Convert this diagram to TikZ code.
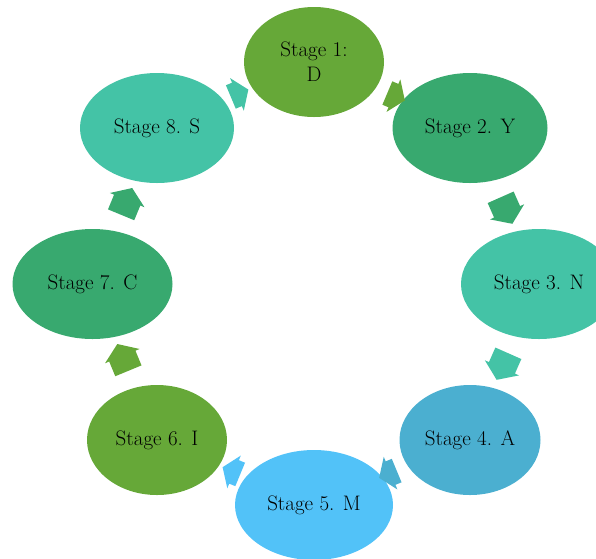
\documentclass[tikz,border=0pt]{standalone}
\usetikzlibrary{shapes.geometric,shapes.arrows}
\definecolor{cgreen}{HTML}{66A838}
\definecolor{cmid}{HTML}{38A96F}
\definecolor{cteal}{HTML}{44C3A6}
\definecolor{cblue}{HTML}{4BAFD0}
\definecolor{clight}{HTML}{52C2F8}
\begin{document}
\begin{tikzpicture}[x=1pt,y=-1pt,
  stagebox/.style={ellipse, draw=none, inner sep=0pt, minimum height=110pt,
    align=center, font=\fontsize{21}{25}\selectfont, text=black},
  blockarr/.style={single arrow, draw=none, inner xsep=0pt, inner ysep=14pt,
    minimum height=29pt, single arrow head extend=4.5pt, single arrow tip angle=110,
    midway, sloped, allow upside down},
  shortarr/.style={blockarr, inner ysep=12.5pt, minimum height=19pt, single arrow head extend=5pt}]
\useasboundingbox (0,0) rectangle (596,558);
\node[stagebox, fill=cgreen, minimum width=140pt] (s1) at (314,62) {Stage 1:\\D};
\node[stagebox, fill=cmid, minimum width=155pt] (s2) at (470,128) {Stage 2. Y};
\node[stagebox, fill=cteal, minimum width=156pt] (s3) at (539,284) {Stage 3. N};
\node[stagebox, fill=cblue, minimum width=141pt] (s4) at (470,440) {Stage 4. A};
\node[stagebox, fill=clight, minimum width=158pt] (s5) at (314,505) {Stage 5. M};
\node[stagebox, fill=cgreen, minimum width=140pt] (s6) at (157,440) {Stage 6. I};
\node[stagebox, fill=cmid, minimum width=160pt] (s7) at (92.5,284) {Stage 7. C};
\node[stagebox, fill=cteal, minimum width=154pt] (s8) at (157,128) {Stage 8. S};
\path (s1.center) -- (s2.center) node[shortarr, fill=cgreen] (a12) {};
\path (s2.center) -- (s3.center) node[blockarr, fill=cmid] (a23) {};
\path (s3.center) -- (s4.center) node[blockarr, fill=cteal] (a34) {};
\path (s4.center) -- (s5.center) node[shortarr, fill=cblue] (a45) {};
\path (s5.center) -- (s6.center) node[shortarr, fill=clight] (a56) {};
\path (s6.center) -- (s7.center) node[blockarr, fill=cgreen] (a67) {};
\path (s7.center) -- (s8.center) node[blockarr, fill=cmid] (a78) {};
\path (s8.center) -- (s1.center) node[shortarr, fill=cteal] (a81) {};
\end{tikzpicture}
\end{document}
